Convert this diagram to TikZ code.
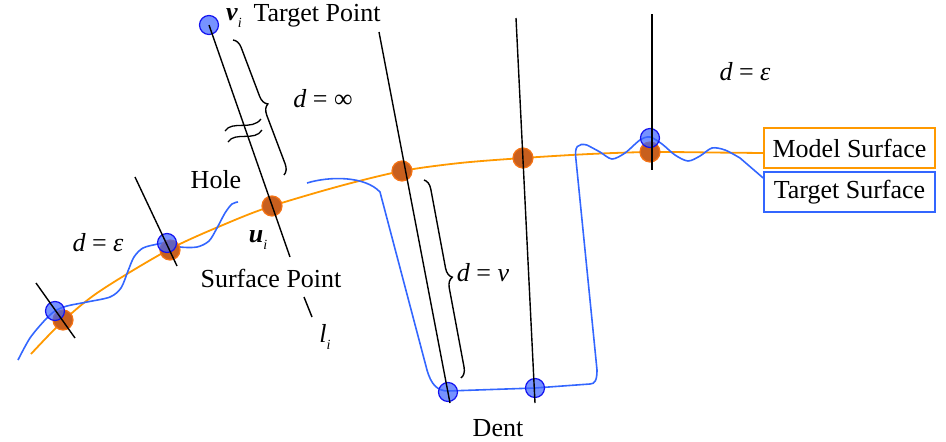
\documentclass[tikz,border=0pt]{standalone}
\usepackage{fontspec}
\setmainfont{Liberation Serif}
\usetikzlibrary{decorations.pathreplacing}
\definecolor{orng}{RGB}{255,153,0}
\definecolor{blu}{RGB}{51,102,255}
\definecolor{dotor}{RGB}{200,95,30}
\definecolor{dotorrim}{RGB}{245,115,20}
\definecolor{dotbl}{RGB}{60,100,255}
\definecolor{dotblrim}{RGB}{20,20,240}
\newcommand{\subi}{\raisebox{-0.3em}{\fontsize{14}{14}\selectfont\itshape i}}
\begin{document}
\begin{tikzpicture}[x=1pt,y=-1pt,
  lbl/.style={font=\fontsize{26}{30}\selectfont, inner sep=0pt},
  odot/.style={circle, minimum size=20pt, inner sep=0pt, fill=dotor, draw=dotorrim, line width=1.2pt},
  bdot/.style={circle, minimum size=19pt, inner sep=0pt, fill=dotbl, fill opacity=0.7, draw=dotblrim, draw opacity=1, line width=1.2pt},
  ray/.style={black, line width=1.4pt},
  ocurve/.style={orng, line width=1.8pt},
  bcurve/.style={blu, line width=1.6pt},
  bracestyle/.style={black, line width=1.4pt, decorate, decoration={brace, amplitude=10pt}},
  legend/.style={font=\fontsize{26}{30}\selectfont, line width=1.6pt, minimum width=171pt, minimum height=40pt, inner sep=0pt}
]
\useasboundingbox (0,0) rectangle (946,442);

% legend boxes
\node[legend, draw=orng] (ms) at (849.5,148) {Model Surface};
\node[legend, draw=blu] (ts) at (849.5,192) {Target Surface};

% model surface
\draw[ocurve] plot[smooth] coordinates {(31,354) (63,321) (100,291) (170,249) (230,222) (272,206) (340,186) (402,171) (460,163) (523,158) (590,154) (650,152) (710,152.5)} -- ([yshift=-5pt]ms.west);

% target surface, left part (hole)
\draw[bcurve] plot[smooth] coordinates {(18,360) (30,338) (45,320) (55,311) (67,306) (87,302) (110,297) (121,288) (128,271) (134,257) (143,248) (158,244) (167,243) (180,247) (197,247) (209,241) (217,228) (225,213) (232,204) (238,202)};

% target surface, right part (dent)
\draw[bcurve] (307,183) .. controls (330,176) and (365,176) .. (380,192) -- (427,370) .. controls (431,384) and (437,391) .. (448,391) -- (535,388) -- (590,384) .. controls (595,384) and (597,380) .. (597,370) -- (576,160) .. controls (574,146) and (578,143) .. (587,145);
\draw[bcurve] plot[smooth] coordinates {(587,145) (600,152) (612,159) (625,153) (640,140) (650,137) (662,144) (675,155) (688,161) (700,156) (712,148) (725,150) (740,158)} -- ([yshift=14pt]ts.west);

% dots
\node[odot] (o1) at (63,320) {};
\node[odot] (o2) at (170,250) {};
\node[odot] (o3) at (272,206) {};
\node[odot] (o4) at (402,171) {};
\node[odot] (o5) at (523,158) {};
\node[odot] (o6) at (650,152) {};
\node[bdot] (b1) at (55,311) {};
\node[bdot] (b2) at (167,243) {};
\node[bdot] (b3) at (209,25) {};
\node[bdot] (b4) at (448,392) {};
\node[bdot] (b5) at (535,388) {};
\node[bdot] (b6) at (650,138) {};

% rays
\coordinate (r1a) at (36,283); \coordinate (r1b) at (75,338);
\coordinate (r2a) at (135,177); \coordinate (r2b) at (177,266);
\coordinate (r3b) at (290,257);
\coordinate (r3c) at (304,297); \coordinate (r3d) at (312,317);
\coordinate (r4a) at (379,32); \coordinate (r4b) at (450,403);
\coordinate (r5a) at (516,18); \coordinate (r5b) at (535,403);
\coordinate (r6a) at (652,14); \coordinate (r6b) at (652,170);
\draw[ray] (r1a) -- (r1b);
\draw[ray] (r2a) -- (r2b);
\draw[ray] (b3.center) -- (r3b);
\draw[ray] (r3c) -- (r3d);
\draw[ray] (r4a) -- (r4b);
\draw[ray] (r5a) -- (r5b);
\draw[ray] (r6a) -- (r6b);

% break mark
\draw[black, line width=1.3pt] (225,131) .. controls (232,120) and (252,131) .. (261,119);
\draw[black, line width=1.3pt] (228,142) .. controls (235,131) and (255,142) .. (262,130);

% braces
\coordinate (br1a) at (233,40); \coordinate (br1b) at (284,175);
\draw[bracestyle] (br1a) -- (br1b);
\coordinate (br2a) at (424,180); \coordinate (br2b) at (461,378);
\draw[bracestyle] (br2a) -- (br2b);

% labels
\node[lbl] (vi) at (234,18) {\textbf{\textit{v}}\subi};
\node[lbl] (tp) at (317,16) {Target Point};
\node[lbl] (dinf) at (323,99) {\textit{d} = ∞};
\node[lbl] (hole) at (216,180) {Hole};
\node[lbl] (deps1) at (98,243) {\textit{d} = \textit{ε}};
\node[lbl] (ui) at (258,240) {\textbf{\textit{u}}\subi};
\node[lbl] (sp) at (271,278) {Surface Point};
\node[lbl] (li) at (325,337) {\textit{l}\subi};
\node[lbl] (dnu) at (483,273) {\textit{d} = \textit{ν}};
\node[lbl] (dent) at (498,428) {Dent};
\node[lbl] (deps2) at (745,72) {\textit{d} = \textit{ε}};
\end{tikzpicture}
\end{document}
